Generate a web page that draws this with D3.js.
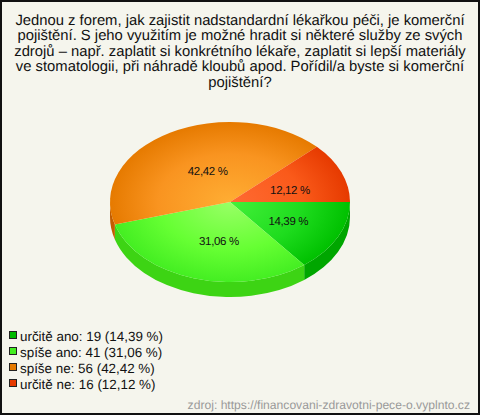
<!DOCTYPE html>
<html><head><meta charset="utf-8">
<script src="https://cdn.jsdelivr.net/npm/d3@7/dist/d3.min.js"></script>
<style>html,body{margin:0;padding:0;background:#fff}svg{display:block}text{font-family:"Liberation Sans",Arial,sans-serif}</style>
</head><body><div id="chart"></div>
<script>
const categories = ["určitě ano","spíše ano","spíše ne","určitě ne"];
const counts = [19,41,56,16];
const percentLabels = ["14,39 %","31,06 %","42,42 %","12,12 %"];
const titleLines = ["Jednou z forem, jak zajistit nadstandardní lékařkou péči, je komerční","pojištění. S jeho využitím je možné hradit si některé služby ze svých","zdrojů – např. zaplatit si konkrétního lékaře, zaplatit si lepší materiály","ve stomatologii, při náhradě kloubů apod. Pořídil/a byste si komerční","pojištění?"];
const sourceText = "zdroj: https://financovani-zdravotni-pece-o.vyplnto.cz";
const innerColors = ["#44f03a","#99ff66","#ffad33","#ff6a33"];
const midColors = ["#1edc1e","#66ff33","#f99420","#fa5a1a"];
const outerColors = ["#00c000","#44ee22","#e67a00","#e63a00"];
const sideColors = ["#00a600","#3dd414","#c25c00","#c23000"];
const legendColors = ["#00bb00","#44ee22","#e67a00","#e63a00"];

const W=480,H=415,cx=230,cy=202,rx=120,ry=80,depth=15;
const svg=d3.select("#chart").append("svg").attr("width",W).attr("height",H);
const defs=svg.append("defs");
svg.append("rect").attr("x",1).attr("y",1).attr("width",W-2).attr("height",H-2).attr("fill","#f5f5ed").attr("stroke","#111").attr("stroke-width",2);

svg.append("g").attr("text-anchor","middle").attr("font-size",14.8).attr("fill","#111").attr("text-rendering","geometricPrecision")
 .selectAll("text").data(titleLines).join("text")
 .attr("x",240).attr("y",(d,i)=>25+i*15.4).text(d=>d);

const arcs=d3.pie().sort(null).startAngle(Math.PI/2).endAngle(Math.PI/2+2*Math.PI)(counts);
const arc=d3.arc().innerRadius(0).outerRadius(rx);
const sy=ry/rx;

arcs.forEach((a,i)=>{
  const s=Math.max(a.startAngle-Math.PI/2,0), e=Math.min(a.endAngle-Math.PI/2,Math.PI);
  if(e<=s) return;
  const pt=(t,dy)=>[cx+rx*Math.cos(t),cy+dy+ry*Math.sin(t)];
  const [x0,y0]=pt(s,0),[x1,y1]=pt(e,0),[x2,y2]=pt(e,depth),[x3,y3]=pt(s,depth);
  const d=`M${x0},${y0}A${rx},${ry} 0 0 1 ${x1},${y1}L${x2},${y2}A${rx},${ry} 0 0 0 ${x3},${y3}Z`;
  svg.append("path").attr("d",d).attr("fill",sideColors[i]);
});

const pieTop=svg.append("g").attr("transform",`translate(${cx},${cy}) scale(1,${sy})`);
arcs.forEach((a,i)=>{
  const g=defs.append("radialGradient").attr("id","g"+i).attr("gradientUnits","userSpaceOnUse").attr("cx",0).attr("cy",0).attr("r",rx);
  g.append("stop").attr("offset",0).attr("stop-color",innerColors[i]);
  g.append("stop").attr("offset",.6).attr("stop-color",midColors[i]);
  g.append("stop").attr("offset",1).attr("stop-color",outerColors[i]);
  pieTop.append("path").attr("d",arc(a)).attr("fill",`url(#g${i})`);
});

const labelArc=d3.arc().innerRadius(rx*.48).outerRadius(rx*.48);
svg.append("g").attr("text-anchor","middle").attr("font-size",11.5).attr("letter-spacing",-0.35).attr("fill","#111").attr("text-rendering","geometricPrecision")
 .selectAll("text").data(arcs).join("text")
 .attr("x",d=>cx+labelArc.centroid(d)[0]+6.5)
 .attr("y",d=>cy+labelArc.centroid(d)[1]*sy+6)
 .text((d,i)=>percentLabels[i]);

const legend=svg.append("g");
categories.forEach((c,i)=>{
  const y=336+i*16;
  legend.append("rect").attr("x",9.5).attr("y",y-4.5).attr("width",7).attr("height",7).attr("fill",legendColors[i]).attr("stroke","#222");
  legend.append("text").attr("x",20).attr("y",y+5).attr("font-size",13.4).attr("fill","#111").attr("text-rendering","geometricPrecision")
    .text(`${c}: ${counts[i]} (${percentLabels[i]})`);
});
svg.append("text").attr("x",470).attr("y",409).attr("text-anchor","end").attr("font-size",12.13).attr("fill","#999").attr("text-rendering","geometricPrecision").text(sourceText);
</script></body></html>
